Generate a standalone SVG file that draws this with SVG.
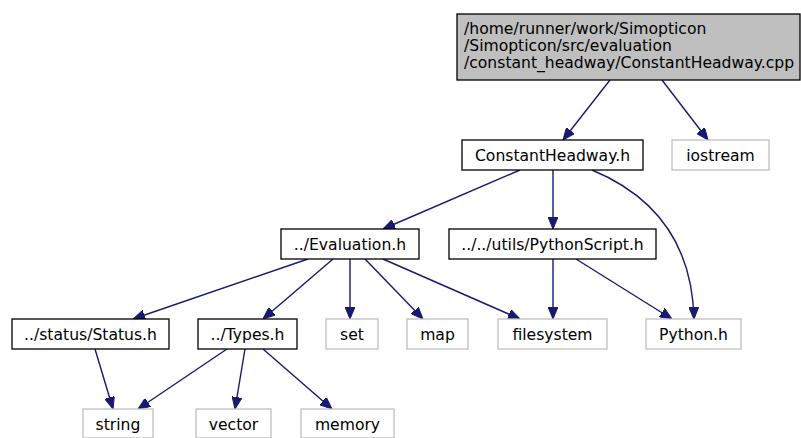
<svg xmlns="http://www.w3.org/2000/svg" width="801" height="438" viewBox="0 0 801 438">
<defs>
<style>
text{font-family:"DejaVu Sans","Liberation Sans",sans-serif;font-size:15.6px;fill:#000}
.c text{text-anchor:middle}
.n rect{fill:#fff;stroke:#000;stroke-width:1.3}
.g rect{fill:#fff;stroke:#bfbfbf;stroke-width:1.3}
.e path{fill:none;stroke:#191970;stroke-width:1.4;marker-end:url(#ah)}
</style>
<marker id="ah" viewBox="0 0 12 10" refX="12" refY="5" markerWidth="12" markerHeight="10" markerUnits="userSpaceOnUse" orient="auto">
<path d="M0,0 L12,5 L0,10 z" fill="#191970" stroke="#191970"/>
</marker>
</defs>
<g id="edges" class="e">
<path d="M610,80 L563,140"/>
<path d="M662,80 L708,140"/>
<path d="M520,170 L383,229"/>
<path d="M553,170 L553,229"/>
<path d="M592,170 C645,192 692,235 694,319"/>
<path d="M308,259 L133,319"/>
<path d="M333,259 L263,319"/>
<path d="M350,259 L350,319"/>
<path d="M365,259 L423,319"/>
<path d="M383,259 L520,319"/>
<path d="M553,259 L553,319"/>
<path d="M576,259 L672,319"/>
<path d="M95,349 L113,409"/>
<path d="M227,349 L138,409"/>
<path d="M245,349 L235,409"/>
<path d="M263,349 L332,409"/>
</g>
<g id="main">
<rect x="457" y="14" width="343" height="66" fill="#bfbfbf" stroke="#000" stroke-width="1.3"/>
<text x="464" y="34">/home/runner/work/Simopticon</text>
<text x="464" y="51">/Simopticon/src/evaluation</text>
<text x="464" y="68">/constant_headway/ConstantHeadway.cpp</text>
</g>
<g id="constantheadway" class="n c"><rect x="462" y="140" width="181" height="30"/><text x="552.5" y="160.5">ConstantHeadway.h</text></g>
<g id="iostream" class="g c"><rect x="672" y="140" width="97" height="30"/><text x="720.5" y="160.5">iostream</text></g>
<g id="evaluation" class="n c"><rect x="281" y="229" width="138" height="30"/><text x="350" y="249.5">../Evaluation.h</text></g>
<g id="pythonscript" class="n c"><rect x="449" y="229" width="207" height="30"/><text x="552.5" y="249.5">../../utils/PythonScript.h</text></g>
<g id="status" class="n c"><rect x="12" y="319" width="157" height="30"/><text x="90.5" y="339.5">../status/Status.h</text></g>
<g id="types" class="n c"><rect x="198" y="319" width="99" height="30"/><text x="247.5" y="339.5">../Types.h</text></g>
<g id="set" class="g c"><rect x="326" y="319" width="52" height="30"/><text x="352" y="339.5">set</text></g>
<g id="map" class="g c"><rect x="407" y="319" width="61" height="30"/><text x="437.5" y="339.5">map</text></g>
<g id="filesystem" class="g c"><rect x="498" y="319" width="109" height="30"/><text x="552.5" y="339.5">filesystem</text></g>
<g id="python" class="g c"><rect x="646" y="319" width="95" height="30"/><text x="693.5" y="339.5">Python.h</text></g>
<g id="string" class="g c"><rect x="83" y="409" width="70" height="29"/><text x="118" y="429.5">string</text></g>
<g id="vector" class="g c"><rect x="196" y="409" width="75" height="29"/><text x="233.5" y="429.5">vector</text></g>
<g id="memory" class="g c"><rect x="301" y="409" width="93" height="29"/><text x="347.5" y="429.5">memory</text></g>
</svg>
